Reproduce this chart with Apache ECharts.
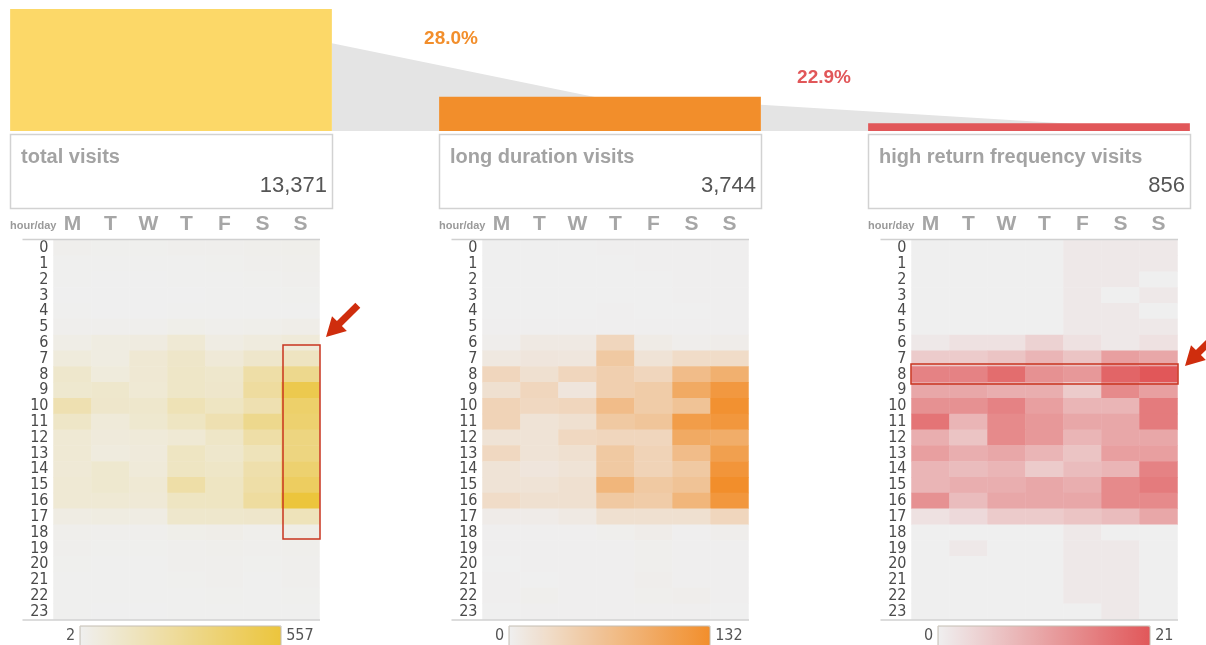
<!DOCTYPE html>
<html>
<head>
<meta charset="utf-8">
<title>visits funnel by hour / day</title>
<script src="https://cdn.jsdelivr.net/npm/echarts@6.0.0/dist/echarts.min.js"></script>
<style>
html, body { margin: 0; padding: 0; background: #fff; }
#main { width: 1206px; height: 645px; }
</style>
</head>
<body>
<div id="main"></div>
<script>
// funnel stages
var stageNames = ['total visits', 'long duration visits', 'high return frequency visits'];
var stageTotals = [13371, 3744, 856];
var stageColors = ['#fcd868', '#f28e2b', '#e15759'];

var days = ['M', 'T', 'W', 'T', 'F', 'S', 'S'];
var hours = ['0','1','2','3','4','5','6','7','8','9','10','11','12','13','14','15','16','17','18','19','20','21','22','23'];

// visits per hour (rows) and day (columns M..S)
var totalByHour = [
    [10, 8, 8, 10, 12, 15, 18],
    [6, 5, 5, 6, 8, 12, 14],
    [4, 3, 3, 4, 5, 8, 10],
    [3, 2, 3, 3, 4, 6, 7],
    [4, 3, 3, 4, 4, 5, 6],
    [12, 10, 12, 20, 15, 18, 25],
    [30, 45, 50, 85, 40, 55, 70],
    [60, 45, 90, 120, 75, 115, 145],
    [110, 60, 90, 125, 110, 225, 305],
    [100, 110, 85, 125, 115, 250, 500],
    [195, 115, 110, 180, 140, 195, 415],
    [125, 70, 100, 140, 195, 305, 400],
    [85, 65, 70, 85, 125, 225, 345],
    [85, 55, 65, 140, 110, 165, 345],
    [80, 100, 70, 140, 125, 210, 400],
    [85, 100, 85, 225, 140, 225, 445],
    [85, 85, 80, 140, 140, 250, 557],
    [40, 45, 40, 110, 110, 115, 165],
    [15, 12, 12, 20, 25, 15, 30],
    [10, 8, 8, 12, 15, 10, 15],
    [8, 6, 6, 10, 12, 8, 12],
    [6, 5, 5, 8, 10, 6, 10],
    [5, 4, 4, 6, 8, 5, 8],
    [4, 3, 3, 5, 6, 4, 6]
];

var longByHour = [
    [0, 0, 0, 1, 1, 1, 1],
    [0, 0, 0, 0, 1, 1, 1],
    [0, 0, 0, 0, 0, 1, 1],
    [0, 0, 0, 0, 0, 1, 1],
    [0, 0, 0, 1, 0, 0, 1],
    [1, 1, 1, 1, 1, 1, 1],
    [3, 8, 8, 34, 6, 3, 4],
    [10, 13, 12, 52, 17, 26, 26],
    [34, 21, 34, 43, 34, 69, 86],
    [21, 34, 13, 43, 48, 94, 118],
    [38, 31, 34, 69, 48, 60, 128],
    [38, 17, 21, 52, 57, 112, 120],
    [17, 17, 31, 34, 34, 94, 90],
    [31, 17, 21, 52, 38, 69, 108],
    [17, 13, 17, 52, 38, 52, 122],
    [17, 17, 21, 78, 52, 60, 132],
    [26, 21, 21, 52, 48, 78, 120],
    [5, 5, 8, 21, 21, 21, 34],
    [1, 1, 1, 2, 4, 1, 3],
    [1, 1, 1, 1, 2, 1, 1],
    [0, 1, 1, 1, 2, 1, 1],
    [1, 0, 1, 1, 3, 1, 1],
    [1, 2, 1, 1, 2, 3, 1],
    [0, 1, 1, 1, 1, 1, 0]
];

var returnByHour = [
    [0, 0, 0, 0, 1, 1, 1],
    [0, 0, 0, 0, 1, 1, 1],
    [0, 0, 0, 0, 1, 1, 0],
    [0, 0, 0, 0, 1, 0, 1],
    [0, 0, 0, 0, 1, 1, 0],
    [0, 0, 0, 0, 1, 1, 1],
    [1, 2, 2, 4, 2, 1, 2],
    [5, 5, 6, 8, 6, 11, 10],
    [15, 15, 18, 13, 12, 19, 21],
    [10, 10, 9, 9, 5, 14, 11],
    [13, 13, 15, 11, 8, 8, 16],
    [17, 8, 14, 12, 10, 10, 16],
    [9, 6, 14, 12, 8, 10, 10],
    [11, 9, 10, 8, 6, 11, 11],
    [8, 7, 8, 5, 7, 8, 15],
    [8, 9, 9, 10, 9, 14, 16],
    [13, 7, 10, 10, 10, 14, 14],
    [2, 3, 5, 5, 6, 7, 10],
    [0, 0, 0, 0, 1, 0, 0],
    [0, 1, 0, 0, 1, 1, 0],
    [0, 0, 0, 0, 1, 1, 0],
    [0, 0, 0, 0, 1, 1, 0],
    [0, 0, 0, 0, 1, 1, 0],
    [0, 0, 0, 0, 0, 1, 0]
];

var heatData = [totalByHour, longByHour, returnByHour];
var heatColors = [['#efefef', '#ecc53c'], ['#efefef', '#f28e2b'], ['#efefef', '#e15759']];

// layout
var panelLeft = [10, 439, 868];
var legendLength = [201, 201, 212];
var numFont = '"DejaVu Sans Condensed", "DejaVu Sans", sans-serif';
var txtFont = '"Liberation Sans", Arial, sans-serif';

function toCells(rows) {
    var cells = [];
    for (var h = 0; h < rows.length; h++) {
        for (var d = 0; d < rows[h].length; d++) {
            cells.push([d, h, rows[h][d]]);
        }
    }
    return cells;
}
function flat(rows) {
    return [].concat.apply([], rows);
}

// arrow polygon pointing down-left to the tip
function arrowPoints(tx, ty, len) {
    var dx = -Math.SQRT1_2, dy = Math.SQRT1_2;   // direction tail -> tip
    var nx = Math.SQRT1_2, ny = Math.SQRT1_2;    // normal
    var hl = 19, hw = 21, sw = 7;
    var bx = tx - dx * hl, by = ty - dy * hl;
    var ex = tx - dx * len, ey = ty - dy * len;
    return [
        [tx, ty],
        [bx + nx * hw / 2, by + ny * hw / 2],
        [bx + nx * sw / 2, by + ny * sw / 2],
        [ex + nx * sw / 2, ey + ny * sw / 2],
        [ex - nx * sw / 2, ey - ny * sw / 2],
        [bx - nx * sw / 2, by - ny * sw / 2],
        [bx - nx * hw / 2, by - ny * hw / 2]
    ];
}

var grids = [], xAxes = [], yAxes = [], series = [], visualMaps = [], graphics = [];

for (var i = 0; i < 3; i++) {
    var vals = flat(heatData[i]);
    var vMin = Math.min.apply(null, vals);
    var vMax = Math.max.apply(null, vals);

    grids.push({ left: panelLeft[i] + 43.5, top: 240, width: 266, height: 379.5, outerBoundsMode: 'none' });
    xAxes.push({
        type: 'category', gridIndex: i, data: days, position: 'top',
        axisLine: { show: false }, axisTick: { show: false }, splitLine: { show: false },
        axisLabel: { interval: 0, margin: 5, color: '#a6a6a6', fontSize: 21, fontWeight: 'bold', fontFamily: txtFont }
    });
    yAxes.push({
        type: 'category', gridIndex: i, data: hours, inverse: true,
        axisLine: { show: false }, axisTick: { show: false }, splitLine: { show: false },
        axisLabel: { interval: 0, margin: 5, color: '#4a4a4a', fontSize: 16, fontFamily: numFont }
    });
    series.push({
        type: 'heatmap', xAxisIndex: i, yAxisIndex: i,
        data: toCells(heatData[i]),
        emphasis: { disabled: true }
    });
    visualMaps.push({
        type: 'continuous', seriesIndex: i, dimension: 2,
        min: vMin, max: vMax, calculable: false, orient: 'horizontal',
        left: panelLeft[i] + 56, top: 626, padding: 0,
        itemWidth: 20, itemHeight: legendLength[i], textGap: 5,
        text: [String(vMax), String(vMin)],
        textStyle: { color: '#555', fontSize: 16, fontFamily: numFont },
        inRange: { color: heatColors[i] }
    });

    // box with stage name and count
    graphics.push({
        type: 'rect', z: 50,
        shape: { x: panelLeft[i] + 0.5, y: 134.5, width: 322, height: 74 },
        style: { fill: '#fff', stroke: '#d2d2d2', lineWidth: 1.5 }
    });
    graphics.push({
        type: 'text', z: 51,
        style: { x: panelLeft[i] + 11, y: 157, text: stageNames[i], fill: '#a3a3a3', font: 'bold 20px ' + txtFont, verticalAlign: 'middle' }
    });
    graphics.push({
        type: 'text', z: 51,
        style: { x: panelLeft[i] + 317, y: 186, text: stageTotals[i].toLocaleString('en-US'), fill: '#555', font: '22px ' + txtFont, align: 'right', verticalAlign: 'middle' }
    });
    graphics.push({
        type: 'text', z: 51,
        style: { x: panelLeft[i], y: 226, text: 'hour/day', fill: '#9a9a9a', font: 'bold 11px ' + txtFont, verticalAlign: 'middle' }
    });
    // top and bottom rules of the heatmap
    graphics.push({
        type: 'line', z: 50,
        shape: { x1: panelLeft[i] + 12.5, y1: 239.5, x2: panelLeft[i] + 310, y2: 239.5 },
        style: { stroke: '#d0d0d0', lineWidth: 1.5 }
    });
    graphics.push({
        type: 'line', z: 50,
        shape: { x1: panelLeft[i] + 12.5, y1: 620, x2: panelLeft[i] + 310, y2: 620 },
        style: { stroke: '#d0d0d0', lineWidth: 1.5 }
    });
    // frame of the colour legend
    graphics.push({
        type: 'rect', z: 50,
        shape: { x: panelLeft[i] + 70, y: 626, width: legendLength[i], height: 22 },
        style: { fill: 'none', stroke: '#c4bdb2', lineWidth: 1 }
    });
}

// funnel bars on one wide grid
grids.push({ left: -43.5, top: 9, width: 1287, height: 122, outerBoundsMode: 'none' });
xAxes.push({ type: 'category', gridIndex: 3, data: stageNames, show: false });
yAxes.push({ type: 'value', gridIndex: 3, min: 0, max: stageTotals[0], show: false });

var dropData = [];
for (var k = 0; k < stageTotals.length - 1; k++) {
    dropData.push([k, stageTotals[k] - stageTotals[k + 1]]);
}

series.push({
    type: 'bar', xAxisIndex: 3, yAxisIndex: 3, barWidth: '75%', z: 3,
    data: stageTotals.map(function (v, idx) {
        return { value: v, itemStyle: { color: stageColors[idx] } };
    })
});
series.push({
    type: 'custom', xAxisIndex: 3, yAxisIndex: 3, z: 1,
    data: dropData,
    encode: { x: 0, y: 1 },
    renderItem: function (params, api) {
        var idx = api.value(0);
        var half = api.size([1, 0])[0] * 0.75 / 2;
        var x0 = api.coord([idx, 0])[0] + half;
        var x1 = api.coord([idx + 1, 0])[0] + half;
        var yBase = api.coord([idx, 0])[1];
        var yTop = api.coord([idx, api.value(1)])[1];
        return {
            type: 'polygon',
            shape: { points: [[x0, yTop], [x1, yBase], [x0, yBase]] },
            style: { fill: '#e4e4e4' }
        };
    }
});

// conversion rates
var ratePos = [[451, 39], [824, 78]];
for (var r = 0; r < ratePos.length; r++) {
    graphics.push({
        type: 'text', z: 60,
        style: {
            x: ratePos[r][0], y: ratePos[r][1],
            text: (stageTotals[r + 1] / stageTotals[r] * 100).toFixed(1) + '%',
            fill: stageColors[r + 1], font: 'bold 19px ' + txtFont,
            align: 'center', verticalAlign: 'middle'
        }
    });
}

// highlight boxes and arrows
graphics.push({
    type: 'rect', z: 80,
    shape: { x: 283, y: 345, width: 37, height: 194 },
    style: { fill: 'none', stroke: '#c9351f', lineWidth: 1.5 }
});
graphics.push({
    type: 'rect', z: 80,
    shape: { x: 911, y: 364, width: 267, height: 20 },
    style: { fill: 'none', stroke: '#c9351f', lineWidth: 1.5 }
});
graphics.push({
    type: 'polygon', z: 80,
    shape: { points: arrowPoints(326, 337, 45) },
    style: { fill: '#cf2d0d' }
});
graphics.push({
    type: 'polygon', z: 80,
    shape: { points: arrowPoints(1185, 366, 48) },
    style: { fill: '#cf2d0d' }
});

//初始化echarts实例
var myChart = echarts.init(document.getElementById('main'));
myChart.setOption({
    animation: false,
    backgroundColor: '#fff',
    grid: grids,
    xAxis: xAxes,
    yAxis: yAxes,
    visualMap: visualMaps,
    series: series,
    graphic: graphics
});
</script>
</body>
</html>
